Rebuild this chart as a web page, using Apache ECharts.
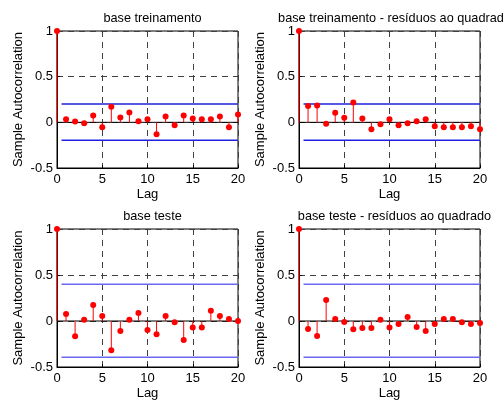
<!DOCTYPE html>
<html>
<head>
<meta charset="utf-8">
<script src="https://cdn.jsdelivr.net/npm/echarts@6/dist/echarts.min.js"></script>
<style>
  html, body { margin: 0; padding: 0; background: #fff; }
  #chart { width: 504px; height: 401px; }
</style>
</head>
<body>
<div id="chart"></div>
<script>
// Sample autocorrelation (lags 0..20) for the four residual series
const lags = [0,1,2,3,4,5,6,7,8,9,10,11,12,13,14,15,16,17,18,19,20];

const acfTrain = [1, 0.033, 0.010, -0.010, 0.076, -0.054, 0.170, 0.054, 0.109, 0.011, 0.033,
                  -0.130, 0.065, -0.033, 0.076, 0.043, 0.033, 0.033, 0.065, -0.054, 0.087];
const acfTrainSq = [1, 0.180, 0.185, -0.015, 0.105, 0.050, 0.217, 0.043, -0.076, -0.022, 0.033,
                    -0.033, -0.011, 0.011, 0.033, -0.043, -0.054, -0.054, -0.054, -0.043, -0.076];
const acfTest = [1, 0.076, -0.167, 0.014, 0.174, 0.054, -0.319, -0.109, 0.014, 0.087, -0.098,
                 -0.145, 0.054, -0.014, -0.207, -0.072, -0.072, 0.112, 0.054, 0.022, 0.000];
const acfTestSq = [1, -0.087, -0.163, 0.228, 0.022, -0.011, -0.090, -0.076, -0.076, 0.014, -0.072,
                   -0.033, 0.043, -0.065, -0.109, -0.033, 0.022, 0.022, -0.014, -0.033, -0.022];

// Confidence bounds drawn from lag 0.5 to the last lag
const boundsTrain = [0.2, -0.195];
const boundsTest = [0.4, -0.395];
const boundStart = 0.5;

const titles = ['base treinamento', 'base treinamento - resíduos ao quadrado',
                'base teste', 'base teste - resíduos ao quadrado'];
const panels = [acfTrain, acfTrainSq, acfTest, acfTestSq];
const panelBounds = [boundsTrain, boundsTrain, boundsTest, boundsTest];
const boundColors = ['#2020e0', '#2020e0', '#6868f0', '#6868f0'];

const xTicks = { min: 0, max: 20, interval: 5 };
const yTicks = { min: -0.5, max: 1, interval: 0.5 };

const FONT = 'Liberation Sans, Arial, sans-serif';
const gridBoxes = [
  { left: 57, top: 31, width: 181, height: 137 },
  { left: 299, top: 31, width: 181, height: 137 },
  { left: 57, top: 229, width: 181, height: 138 },
  { left: 299, top: 229, width: 181, height: 138 }
];

const grid = [], xAxis = [], yAxis = [], series = [], title = [];

panels.forEach((vals, i) => {
  const g = gridBoxes[i];
  grid.push(Object.assign({ show: true, borderColor: '#000', borderWidth: 1, backgroundColor: '#fff', containLabel: false }, g));
  title.push({
    text: titles[i],
    left: g.left + g.width / 2, textAlign: 'center',
    top: g.top - 24,
    textStyle: { fontFamily: FONT, fontSize: 12.7, fontWeight: 'normal', color: '#000' }
  });
  xAxis.push({
    type: 'value', gridIndex: i, min: xTicks.min, max: xTicks.max, interval: xTicks.interval,
    name: 'Lag', nameLocation: 'middle', nameGap: 20,
    nameTextStyle: { fontFamily: FONT, fontSize: 13, color: '#000' },
    axisLine: { show: true, onZero: false, lineStyle: { color: '#000', width: 1 } },
    axisTick: { show: true, inside: true, length: 3, lineStyle: { color: '#000' } },
    axisLabel: { fontFamily: FONT, fontSize: 13, color: '#000', margin: 5 },
    splitLine: { show: true, lineStyle: { color: '#404040', type: [6, 5], width: 1 } }
  });
  yAxis.push({
    type: 'value', gridIndex: i, min: yTicks.min, max: yTicks.max, interval: yTicks.interval,
    name: 'Sample Autocorrelation', nameLocation: 'middle', nameGap: 32,
    nameTextStyle: { fontFamily: FONT, fontSize: 13, color: '#000' },
    axisLine: { show: true, lineStyle: { color: '#000', width: 1 } },
    axisTick: { show: true, inside: true, length: 3, lineStyle: { color: '#000' } },
    axisLabel: { fontFamily: FONT, fontSize: 13, color: '#000', margin: 4 },
    splitLine: { show: true, lineStyle: { color: '#404040', type: [6, 5], width: 1 } }
  });

  const pts = lags.map((l, k) => [l, vals[k]]);
  const b = panelBounds[i];

  // zero line
  series.push({
    type: 'line', xAxisIndex: i, yAxisIndex: i, symbol: 'none', silent: true,
    data: [[xTicks.min, 0], [xTicks.max, 0]],
    lineStyle: { color: '#000', width: 1 }, z: 2
  });
  // confidence bounds
  b.forEach(v => {
    series.push({
      type: 'line', xAxisIndex: i, yAxisIndex: i, symbol: 'none', silent: true,
      data: [[boundStart, v], [xTicks.max, v]],
      lineStyle: { color: boundColors[i], width: 1.5 }, z: 2
    });
  });
  // stems
  series.push({
    type: 'custom', xAxisIndex: i, yAxisIndex: i, silent: true, z: 3,
    data: pts,
    renderItem: (params, api) => {
      const p0 = api.coord([api.value(0), 0]);
      const p1 = api.coord([api.value(0), api.value(1)]);
      return { type: 'line', shape: { x1: p0[0], y1: p0[1], x2: p1[0], y2: p1[1] },
               style: { stroke: '#ff0000', lineWidth: 1 } };
    }
  });
  // markers
  series.push({
    type: 'scatter', xAxisIndex: i, yAxisIndex: i, silent: true, z: 4,
    data: pts, symbol: 'circle', symbolSize: 6,
    itemStyle: { color: '#ff0000', opacity: 1 }
  });
});

const chart = echarts.init(document.getElementById('chart'), null, { renderer: 'canvas' });
chart.setOption({ animation: false, backgroundColor: '#fff', title, grid, xAxis, yAxis, series });
</script>
</body>
</html>
